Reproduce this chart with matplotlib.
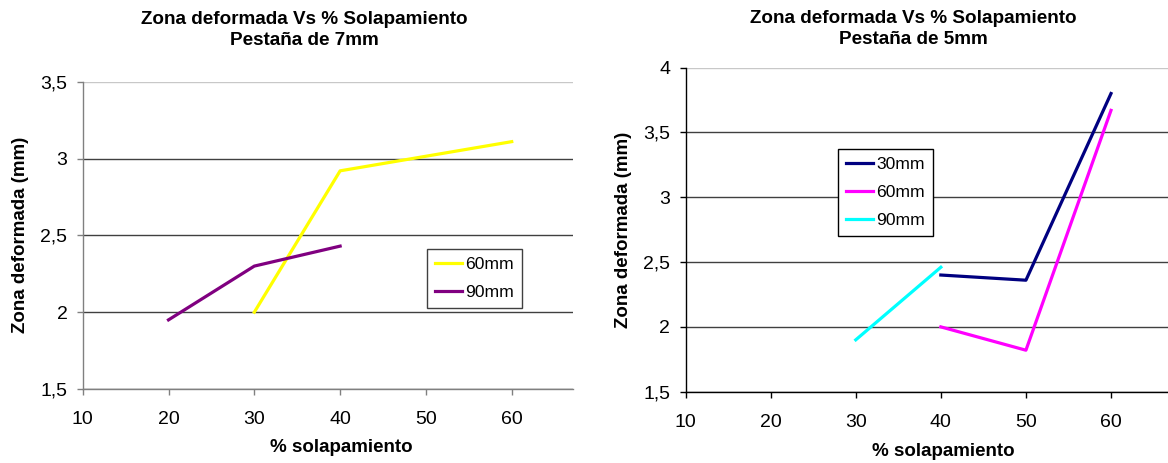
import matplotlib
matplotlib.use("Agg")
import matplotlib.pyplot as plt
from matplotlib.ticker import FuncFormatter

plt.rcParams['font.family'] = ['Liberation Sans', 'DejaVu Sans']

# Pestaña de 7mm
x7_60 = [30, 40, 60]
y7_60 = [2.0, 2.92, 3.11]
x7_90 = [20, 30, 40]
y7_90 = [1.95, 2.30, 2.43]

# Pestaña de 5mm
x5_30 = [40, 50, 60]
y5_30 = [2.40, 2.36, 3.80]
x5_60 = [40, 50, 60]
y5_60 = [2.00, 1.82, 3.67]
x5_90 = [30, 40]
y5_90 = [1.90, 2.46]

xticks = [10, 20, 30, 40, 50, 60]
yticks_7 = [1.5, 2.0, 2.5, 3.0, 3.5]
yticks_5 = [1.5, 2.0, 2.5, 3.0, 3.5, 4.0]


def comma(v, pos):
    return f"{v:g}".replace('.', ',')


def style_axes(ax, yticks, xmax, spine_color):
    ax.set_xlim(10, xmax)
    ax.set_ylim(yticks[0], yticks[-1])
    ax.set_xticks(xticks)
    ax.set_yticks(yticks)
    ax.yaxis.set_major_formatter(FuncFormatter(comma))
    ax.grid(axis='y', color='#404040', lw=1)
    ax.get_ygridlines()[-1].set_color('#c8c8c8')
    ax.set_axisbelow(True)
    for s in ['top', 'right']:
        ax.spines[s].set_visible(False)
    for s in ['left', 'bottom']:
        ax.spines[s].set_color(spine_color)
        ax.spines[s].set_linewidth(1)
    ax.tick_params(direction='out', length=4, width=1, color=spine_color,
                   labelsize=14)
    ax.tick_params(axis='y', pad=7)
    ax.tick_params(axis='x', pad=12)


def add_legend(ax, x0, y0, edge):
    leg = ax.legend(loc='upper left', bbox_to_anchor=(x0, y0),
                    fontsize=12.6, frameon=True, fancybox=False, handlelength=1.55,
                    handletextpad=0.2, borderpad=0.45, labelspacing=0.72,
                    borderaxespad=0)
    leg.get_frame().set_edgecolor(edge)
    leg.get_frame().set_linewidth(1)
    leg.get_frame().set_alpha(1)
    return leg


fig = plt.figure(figsize=(11.68, 4.63), dpi=100)

ax1 = fig.add_axes([0.0708, 0.1598, 0.4195, 0.6637])
ax1.plot(x7_60, y7_60, color='#FFFF00', lw=2.3, label='60mm')
ax1.plot(x7_90, y7_90, color='#800080', lw=2.3, label='90mm')
style_axes(ax1, yticks_7, 67.1, '#808080')
ax1.set_xlabel('% solapamiento', fontsize=13.5, fontweight='bold')
ax1.xaxis.set_label_coords((341 - 82.7) / 490, -(439 - 389) / 307.3)
ax1.set_ylabel('Zona deformada (mm)', fontsize=13.5, fontweight='bold')
ax1.yaxis.set_label_coords(-(82.7 - 29) / 490, 0.5)
add_legend(ax1, (426.7 - 82.7) / 490, (389 - 249) / 307.3, '#404040')

ax2 = fig.add_axes([0.587, 0.154, 0.413, 0.700])
ax2.plot(x5_30, y5_30, color='#000080', lw=2.3, label='30mm')
ax2.plot(x5_60, y5_60, color='#FF00FF', lw=2.3, label='60mm')
ax2.plot(x5_90, y5_90, color='#00FFFF', lw=2.3, label='90mm')
style_axes(ax2, yticks_5, 66.7, 'black')
ax2.set_xlabel('% solapamiento', fontsize=13.5, fontweight='bold')
ax2.xaxis.set_label_coords((943 - 685.7) / 482.3, -(443 - 391.7) / 324)
ax2.set_ylabel('Zona deformada (mm)', fontsize=13.5, fontweight='bold')
ax2.yaxis.set_label_coords(-(685.7 - 632) / 482.3, 0.5)
add_legend(ax2, (838 - 685.7) / 482.3, (391.7 - 149) / 324, 'black')

fig.text(304 / 1168, 1 - 30 / 463, 'Zona deformada Vs % Solapamiento\nPestaña de 7mm',
         ha='center', va='center', fontsize=13.6, fontweight='bold', linespacing=1.3)
fig.text(913 / 1168, 1 - 29 / 463, 'Zona deformada Vs % Solapamiento\nPestaña de 5mm',
         ha='center', va='center', fontsize=13.6, fontweight='bold', linespacing=1.3)

fig.savefig('out.png', dpi=100)
